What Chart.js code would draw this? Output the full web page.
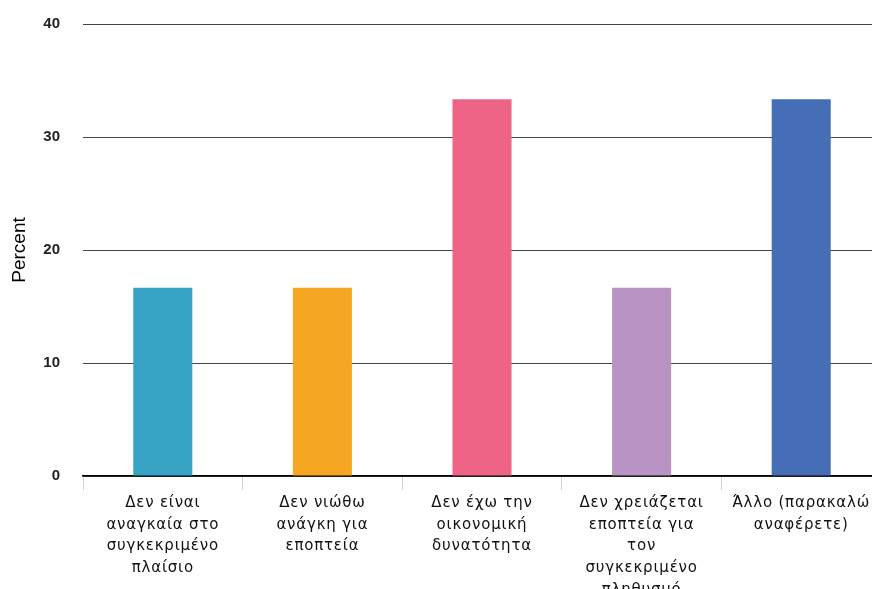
<!DOCTYPE html>
<html>
<head>
<meta charset="utf-8">
<script src="https://cdn.jsdelivr.net/npm/chart.js@4.4.1/dist/chart.umd.min.js"></script>
<style>
html,body{margin:0;padding:0;background:#fff;overflow:hidden;}
#wrap{width:872px;height:589px;position:relative;overflow:hidden;}
</style>
</head>
<body>
<div id="wrap"><canvas id="c" width="881" height="589"></canvas></div>
<script>
const categories = [
  ["Δεν είναι", "αναγκαία στο", "συγκεκριμένο", "πλαίσιο"],
  ["Δεν νιώθω", "ανάγκη για", "εποπτεία"],
  ["Δεν έχω την", "οικονομική", "δυνατότητα"],
  ["Δεν χρειάζεται", "εποπτεία για", "τον", "συγκεκριμένο", "πληθυσμό"],
  ["Άλλο (παρακαλώ", "αναφέρετε)"]
];
const percentValues = [16.67, 16.67, 33.33, 16.67, 33.33];
const barColors = ["#37A3C5", "#F5A623", "#EE6486", "#B893C4", "#456EB6"];
const yTicks = [0, 10, 20, 30, 40];

const letterSpacingPlugin = {
  id: 'xLetterSpacing',
  beforeDraw(chart) {
    const xs = chart.scales.x;
    if (!xs._lsWrapped) {
      const orig = xs.drawLabels.bind(xs);
      xs.drawLabels = function (area) {
        const ctx = this.ctx;
        const prev = ctx.letterSpacing;
        ctx.letterSpacing = '0.8px';
        orig(area);
        ctx.letterSpacing = prev || '0px';
      };
      xs._lsWrapped = true;
    }
  }
};

new Chart(document.getElementById('c'), {
  type: 'bar',
  data: {
    labels: categories,
    datasets: [{
      data: percentValues,
      backgroundColor: barColors,
      borderWidth: 0,
      categoryPercentage: 1.0,
      barPercentage: 0.37
    }]
  },
  plugins: [letterSpacingPlugin],
  options: {
    responsive: false,
    animation: false,
    devicePixelRatio: 1,
    layout: { padding: { top: 24, right: 0, left: 0, bottom: 0 } },
    plugins: { legend: { display: false }, tooltip: { enabled: false } },
    scales: {
      x: {
        offset: true,
        grid: {
          offset: true,
          drawOnChartArea: false,
          drawTicks: true,
          tickLength: 14,
          color: '#C8D4E8',
          lineWidth: 1
        },
        border: { display: true, color: '#000', width: 1.5 },
        ticks: {
          maxRotation: 0,
          autoSkip: false,
          color: '#111',
          padding: 2,
          font: { family: 'DejaVu Sans', size: 15, lineHeight: 1.45 }
        },
        afterFit: s => { s.height = 113; s.paddingLeft = 0; s.paddingRight = 0; }
      },
      y: {
        min: 0, max: 40,
        afterBuildTicks: s => { s.ticks = yTicks.map(v => ({ value: v })); },
        grid: { color: '#444', lineWidth: 1, drawTicks: false },
        border: { display: false },
        ticks: {
          color: '#222',
          padding: 23,
          font: { family: 'Liberation Sans', size: 15, weight: 'bold' }
        },
        title: {
          display: true,
          text: 'Percent',
          color: '#000',
          padding: { top: 8, bottom: 0 },
          font: { family: 'Liberation Sans', size: 19 }
        },
        afterFit: s => { s.width = 83; s.paddingTop = 0; s.paddingBottom = 0; }
      }
    }
  }
});
</script>
</body>
</html>
